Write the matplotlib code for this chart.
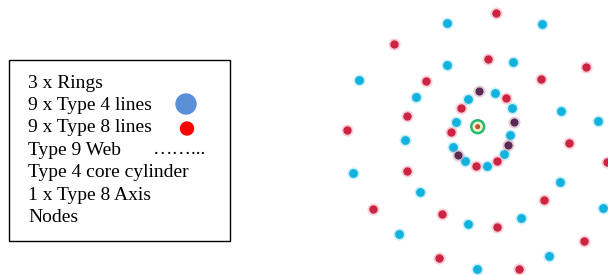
import numpy as np
import matplotlib.pyplot as plt
from matplotlib.patches import Rectangle, Circle

# legend text lines
labels = ['3 x Rings', '9 x Type 4 lines', '9 x Type 8 lines', 'Type 9 Web',
          'Type 4 core cylinder', '1 x Type 8 Axis', 'Nodes']

# node positions (pixel units)
cyan_x = [446.7, 541.7, 359, 597.7, 352.7, 602.7, 399, 549.3, 476.7,
          513.3, 446.7, 415.7, 561, 405, 560, 420, 521, 467.7,
          495, 468.3, 511.7, 455.7, 510, 452.7, 504.3, 465, 486.7]
cyan_y = [22.7, 24.3, 80, 121, 172.7, 208.3, 234.3, 256, 269.3,
          62.3, 65, 96.7, 111, 140, 181.7, 192.3, 217.7, 224.3,
          93.3, 99, 107.7, 121.7, 135, 146.7, 154, 161, 165.7]
red_x = [495.7, 394, 585.7, 346.7, 606.7, 373.3, 584, 439, 519,
         487.7, 426, 540.7, 407.3, 569.3, 407.3, 544, 441.7, 496.7,
         505.7, 461, 451, 497.3, 476]
red_y = [12.7, 44.3, 66.7, 130, 161.7, 209.3, 240.7, 257.7, 269.3,
         59.3, 80.7, 79.3, 116, 142.7, 171, 200, 214, 226.7,
         98.3, 108.3, 131.7, 161, 166]
dark_x = [479.3, 514, 508.3, 457.7]
dark_y = [91, 121.7, 145, 155]
core = (477.7, 126.7)

fig = plt.figure(figsize=(6.08, 2.75), dpi=100)
ax = fig.add_axes([0, 0, 1, 1])
ax.set_xlim(0, 608)
ax.set_ylim(275, 0)
ax.axis('off')

# legend box
ax.add_patch(Rectangle((9, 60), 221, 181, fill=False, edgecolor='black', lw=1))
for i, t in enumerate(labels):
    ax.text(28, 83 + i * 22.4, t, fontsize=14, family='Liberation Serif',
            va='center', ha='left')
ax.add_patch(Circle((186, 104), 10, color='#5b8fd8'))
ax.add_patch(Circle((187, 128.5), 6.5, color='#ff0000'))
ax.text(153, 150, '……...', fontsize=14, family='Liberation Serif',
        va='center', ha='left')

# nodes, soft halo then core dot
ax.scatter(cyan_x, cyan_y, s=75, color='#8fdcf2', alpha=0.5, lw=0)
ax.scatter(cyan_x, cyan_y, s=40, color='#12b2de', lw=0)
ax.scatter(red_x, red_y, s=75, color='#f0a0b0', alpha=0.5, lw=0)
ax.scatter(red_x, red_y, s=36, color='#cf2343', lw=0)
ax.scatter(dark_x, dark_y, s=75, color='#c89ab0', alpha=0.5, lw=0)
ax.scatter(dark_x, dark_y, s=34, color='#5a2a55', lw=0)

# core cylinder
ax.add_patch(Circle(core, 7, color='#25b873'))
ax.add_patch(Circle(core, 4.5, color='#f4f0c8'))
ax.add_patch(Circle(core, 1.8, color='#c05030'))

fig.savefig('out.png', dpi=100)
